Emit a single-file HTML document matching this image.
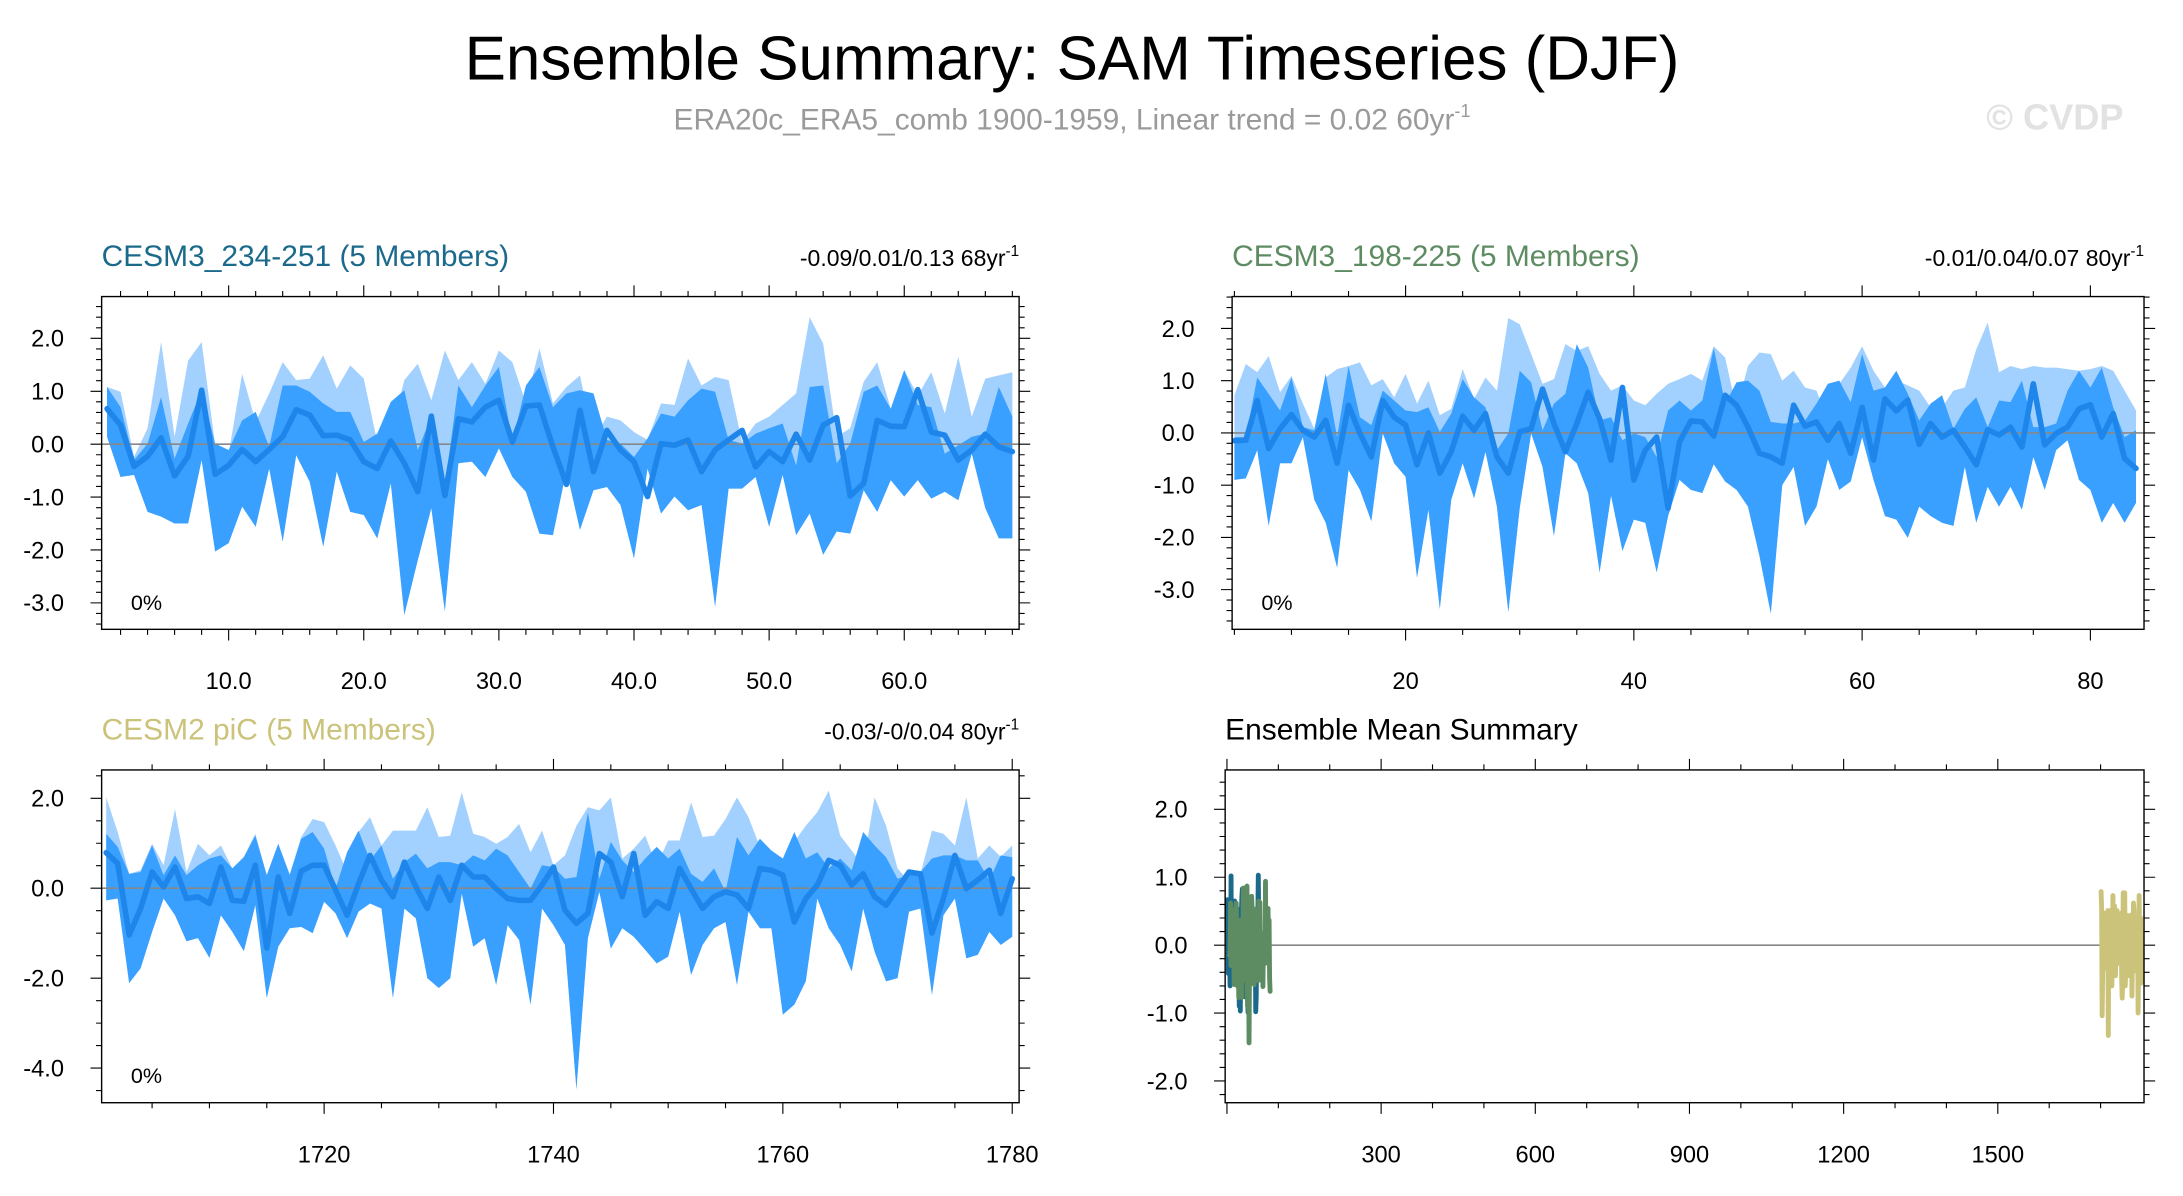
<!DOCTYPE html>
<html><head><meta charset="utf-8"><style>
html,body{margin:0;padding:0;background:#fff;}
svg{display:block;font-family:"Liberation Sans",sans-serif;}
</style></head><body>
<svg id="chart" width="2183" height="1196" viewBox="0 0 1568 859" preserveAspectRatio="none" xmlns="http://www.w3.org/2000/svg">
<rect width="1568" height="859" fill="#fff"/>
<text x="770" y="57" font-size="44.5" text-anchor="middle">Ensemble Summary: SAM Timeseries (DJF)</text>
<text x="770" y="93" font-size="21.5" fill="#9a9a9a" text-anchor="middle">ERA20c_ERA5_comb 1900-1959, Linear trend = 0.02 60yr<tspan font-size="13" dy="-9">-1</tspan></text>
<text x="1476" y="93" font-size="26" font-weight="bold" fill="#e2e2e2" text-anchor="middle">© CVDP</text>
<g id="panels"></g>
</svg>
<script>
// Panel 1: CESM3_234-251 (years 1..68)
const p1Mean=[0.67,0.36,-0.42,-0.23,0.12,-0.60,-0.23,1.02,-0.57,-0.40,-0.10,-0.33,-0.10,0.14,0.65,0.55,0.16,0.17,0.08,-0.33,-0.46,0.06,-0.36,-0.90,0.53,-0.97,0.48,0.42,0.70,0.83,0.04,0.72,0.74,-0.05,-0.76,0.64,-0.52,0.26,-0.11,-0.33,-0.99,0.01,-0.02,0.08,-0.52,-0.11,0.08,0.26,-0.43,-0.14,-0.33,0.19,-0.30,0.36,0.50,-0.98,-0.74,0.45,0.34,0.33,1.03,0.23,0.17,-0.30,-0.11,0.19,-0.05,-0.14];
const p1Hi=[1.08,0.99,-0.24,0.30,1.93,0.14,1.58,1.93,-0.02,-0.18,1.33,0.42,0.96,1.55,1.21,1.24,1.68,1.05,1.49,1.24,0.04,0.20,1.21,1.52,0.83,1.77,1.21,1.55,1.14,1.77,1.55,0.77,1.81,0.77,1.08,1.30,0.11,0.52,0.45,0.23,0.08,0.77,0.74,1.62,1.11,1.27,1.21,0.04,0.39,0.52,0.74,0.96,2.40,1.90,0.14,0.30,1.18,1.55,0.67,1.40,0.92,1.36,0.58,1.65,0.52,1.24,1.30,1.36];
const p1Mid=[1.08,0.70,-0.30,0.01,0.89,-0.27,0.39,1.02,0.01,-0.11,0.45,0.61,-0.05,1.11,1.11,0.99,0.77,0.61,0.61,0.04,0.20,0.80,1.02,-0.11,0.52,-0.81,1.11,0.70,1.11,1.46,0.04,1.11,1.46,0.70,0.96,1.02,0.96,0.08,0.01,-0.24,0.11,0.58,0.52,0.83,1.05,0.99,0.08,0.01,0.20,0.30,0.39,-0.40,1.08,1.11,-0.36,0.01,0.99,1.11,0.67,1.40,0.74,0.70,-0.18,-0.02,0.14,0.20,1.08,0.52];
const p1Lo=[0.14,-0.62,-0.58,-1.28,-1.37,-1.50,-1.50,-0.30,-2.03,-1.87,-1.18,-1.56,-0.46,-1.84,-0.21,-0.71,-1.94,-0.52,-1.28,-1.34,-1.78,-0.74,-3.23,-2.19,-1.21,-3.16,-0.36,-0.33,-0.62,-0.08,-0.62,-0.90,-1.69,-1.72,-0.49,-1.62,-0.87,-0.81,-1.15,-2.16,-0.46,-1.31,-0.99,-1.25,-1.15,-3.07,-0.84,-0.84,-0.62,-1.56,-0.58,-1.72,-1.31,-2.09,-1.65,-1.69,-0.87,-1.28,-0.68,-0.99,-0.68,-1.03,-0.90,-1.06,-0.18,-1.21,-1.78,-1.78];
// Panel 2: CESM3_198-225 (years 5..84)
const p2Mean=[-0.15,-0.14,0.62,-0.30,0.08,0.35,0.05,-0.08,0.24,-0.58,0.53,-0.01,-0.46,0.62,0.30,0.15,-0.61,0.00,-0.77,-0.36,0.32,0.05,0.37,-0.46,-0.77,0.02,0.08,0.84,0.18,-0.36,0.18,0.78,0.27,-0.52,0.87,-0.90,-0.33,-0.08,-1.44,-0.17,0.23,0.21,-0.06,0.72,0.53,0.11,-0.39,-0.46,-0.58,0.53,0.13,0.21,-0.14,0.18,-0.39,0.49,-0.52,0.65,0.42,0.63,-0.22,0.18,-0.08,0.05,-0.27,-0.61,0.06,-0.04,0.11,-0.27,0.94,-0.23,-0.01,0.11,0.46,0.54,-0.08,0.37,-0.49,-0.68];
const p2Hi=[0.72,1.32,1.16,1.47,0.78,1.09,0.56,0.08,1.06,1.22,1.28,1.35,0.91,1.03,0.68,1.13,0.56,1.00,0.34,0.46,1.22,0.65,1.06,0.81,2.20,2.08,1.51,0.94,1.03,1.70,1.57,1.66,1.13,0.81,0.91,0.62,0.53,0.75,0.94,1.03,1.13,1.00,1.66,1.44,0.46,1.28,1.54,1.51,1.00,1.19,0.87,0.81,0.27,0.94,1.25,1.66,1.19,0.87,1.00,0.91,0.81,0.49,0.49,0.81,0.87,1.60,2.11,1.16,1.28,1.22,1.28,1.25,1.25,1.22,1.19,1.22,1.28,1.19,0.81,0.43];
const p2Mid=[-0.08,-0.08,1.06,0.75,0.43,1.06,0.11,0.05,1.13,-0.08,1.28,0.30,0.15,0.81,0.62,0.43,0.40,0.49,0.02,0.37,1.03,0.68,0.49,-0.33,-0.01,1.19,0.97,0.05,0.56,0.75,1.70,1.25,0.24,0.30,-0.14,-0.01,-0.08,-0.46,0.43,0.62,0.43,0.62,1.63,0.56,0.97,1.00,0.81,0.21,0.18,0.18,0.24,0.56,0.94,1.00,0.59,1.51,0.81,0.87,1.19,0.75,0.24,0.56,0.72,0.08,0.46,0.68,0.11,0.62,0.59,1.00,0.11,0.11,0.18,0.81,1.19,0.87,1.25,0.49,-0.08,0.05];
const p2Lo=[-0.90,-0.87,-0.33,-1.78,-0.58,-0.58,-0.08,-1.28,-1.72,-2.58,-0.71,-1.09,-1.69,-0.01,-0.58,-0.84,-2.77,-1.47,-3.37,-1.28,-0.58,-1.25,-0.36,-1.41,-3.43,-1.44,-0.01,-0.65,-1.97,-0.39,-0.58,-1.15,-2.67,-1.20,-2.26,-1.66,-1.72,-2.67,-1.59,-0.90,-1.09,-1.15,-0.60,-0.93,-1.09,-1.41,-2.35,-3.46,-1.00,-0.65,-1.78,-1.41,-0.50,-1.09,-0.93,-0.08,-0.90,-1.59,-1.66,-2.01,-1.41,-1.59,-1.72,-1.78,-0.65,-1.72,-1.03,-1.41,-1.03,-1.47,-0.46,-1.09,-0.33,-0.14,-0.90,-1.09,-1.72,-1.34,-1.72,-1.34];
// Panel 3: CESM2 piC (years 1701..1780)
const p3Mean=[0.79,0.55,-1.04,-0.45,0.36,0.03,0.47,-0.23,-0.19,-0.34,0.47,-0.27,-0.29,0.51,-1.33,0.25,-0.56,0.38,0.51,0.51,-0.04,-0.60,0.10,0.73,0.18,-0.19,0.58,0.03,-0.45,0.25,-0.27,0.51,0.25,0.25,-0.01,-0.23,-0.27,-0.27,0.07,0.47,-0.49,-0.78,-0.56,0.77,0.58,-0.19,0.77,-0.60,-0.30,-0.45,0.44,-0.01,-0.45,-0.19,-0.08,-0.15,-0.45,0.44,0.40,0.29,-0.75,-0.23,0.07,0.62,0.51,0.07,0.32,-0.19,-0.38,-0.01,0.36,0.32,-1.00,-0.23,0.73,-0.01,0.18,0.40,-0.56,0.21];
const p3Hi=[2.02,1.25,0.32,0.40,0.99,0.51,1.76,0.36,0.99,0.73,0.95,0.44,0.70,1.21,0.29,0.99,0.32,1.14,1.54,1.47,0.95,0.36,1.25,1.58,0.95,1.28,1.28,1.28,1.80,1.14,1.17,2.13,1.21,1.14,0.99,1.14,1.43,0.80,1.28,0.51,0.73,1.39,1.80,1.73,2.02,0.66,0.88,1.17,0.51,1.06,1.06,1.91,1.14,1.17,1.54,2.02,1.58,0.92,0.58,0.58,1.03,1.39,1.69,2.17,1.17,0.84,0.51,2.02,1.39,0.44,0.14,0.32,1.28,1.21,0.95,2.02,0.66,0.95,0.70,0.95];
const p3Mid=[1.21,0.92,0.32,0.36,0.95,0.29,0.73,0.29,0.51,0.66,0.73,0.44,0.69,1.17,0.29,0.99,0.29,1.10,1.25,0.88,-0.01,0.80,1.28,0.62,0.95,0.21,0.58,0.77,0.44,0.58,0.58,0.51,0.73,0.62,0.88,0.73,0.36,-0.01,0.51,0.47,0.21,0.25,1.69,0.21,1.03,0.62,0.36,0.66,0.92,0.66,0.88,0.32,0.14,0.44,-0.08,1.14,0.73,1.10,0.84,0.66,1.25,0.66,0.80,0.44,0.66,0.40,1.25,0.95,0.69,0.21,0.29,0.36,0.66,0.73,0.73,0.62,0.62,0.18,0.73,0.69];
const p3Lo=[-0.27,-0.23,-2.11,-1.78,-0.97,-0.23,-0.60,-1.18,-1.11,-1.55,-0.60,-0.97,-1.40,-0.38,-2.44,-1.30,-0.89,-0.86,-1.00,-0.30,-0.56,-1.11,-0.52,-0.34,-0.45,-2.44,-0.45,-0.67,-2.00,-2.22,-2.00,-0.12,-1.30,-1.11,-2.15,-0.82,-1.15,-2.59,-0.45,-0.82,-1.26,-4.47,-1.11,-0.08,-1.34,-0.89,-1.08,-1.37,-1.67,-1.52,-0.52,-1.93,-1.26,-0.89,-0.75,-2.15,-0.52,-0.89,-0.89,-2.81,-2.59,-2.07,-0.23,-0.89,-1.26,-1.85,-0.45,-1.41,-2.07,-2.00,-0.52,-0.45,-2.37,-0.60,-0.23,-1.56,-1.48,-0.97,-1.26,-1.08];
const p1Start=1, p2Start=5, p3Start=1701;
const p1Labels=["10.0","20.0","30.0","40.0","50.0","60.0"];
const p2Labels=["20","40","60","80"];
const p3Labels=["1720","1740","1760","1780"];
const p4Labels=["300","600","900","1200","1500"];

const NS="http://www.w3.org/2000/svg";
const root=document.getElementById('panels');
function mk(tag,attrs,parent){const e=document.createElementNS(NS,tag);for(const k in attrs)e.setAttribute(k,attrs[k]);(parent||root).appendChild(e);return e;}
let clipId=0;
function panel(c){
  const g=mk('g',{});
  
  
  const sx=v=>c.x0+(v-c.xmin)/(c.xmax-c.xmin)*(c.x1-c.x0);
  const sy=v=>c.y1-(v-c.ymin)/(c.ymax-c.ymin)*(c.y1-c.y0);
  const id='clip'+(clipId++);
  const cp=mk('clipPath',{id:id},g);mk('rect',{x:c.x0,y:c.y0,width:c.x1-c.x0,height:c.y1-c.y0},cp);
  const pg=mk('g',{'clip-path':'url(#'+id+')'},g);
  const poly=(top,bot,start)=>{let pts=[];top.forEach((v,i)=>pts.push(sx(start+i)+','+sy(v)));for(let i=bot.length-1;i>=0;i--)pts.push(sx(start+i)+','+sy(bot[i]));return pts.join(' ');};
  (c.bands||[]).forEach(b=>{
    const l=mk('polygon',{points:poly(b.hi,b.lo,b.start),fill:'#a3d1ff'},pg);
    
    
    const d=mk('polygon',{points:poly(b.mid,b.lo,b.start),fill:'#3aa0ff'},pg);
    
    
  });
  const z=mk('line',{x1:c.x0,x2:c.x1,y1:sy(0),y2:sy(0),stroke:'#888','stroke-width':1.2},pg);
  
  
  c.lines.forEach(L=>{
    const p=mk('polyline',{points:L.data.map((v,i)=>sx(L.start+i)+','+sy(v)).join(' '),fill:'none',stroke:L.color,'stroke-width':L.w,'stroke-linejoin':'round','stroke-linecap':'round'},pg);
    
    
  });
  mk('rect',{x:c.x0,y:c.y0,width:c.x1-c.x0,height:c.y1-c.y0,fill:'none',stroke:'#000','stroke-width':1},g);
  const tk=[];
  for(let v=Math.ceil(c.xmin/c.xminor)*c.xminor;v<=c.xmax+1e-9;v+=c.xminor){const maj=Math.abs(v/c.xmajor-Math.round(v/c.xmajor))<1e-6;const L=maj?8:4;const x=sx(v);tk.push(`M${x},${c.y0}v${-L}M${x},${c.y1}v${L}`);}
  for(let v=Math.ceil(c.ymin/c.yminor)*c.yminor;v<=c.ymax+1e-9;v+=c.yminor){const maj=Math.abs(v/c.ymajor-Math.round(v/c.ymajor))<1e-6;const L=maj?8:4;const y=sy(v);tk.push(`M${c.x0},${y}h${-L}M${c.x1},${y}h${L}`);}
  mk('path',{d:tk.join(''),stroke:'#000','stroke-width':0.8,fill:'none'},g);
  c.xticks.forEach((v,i)=>{const t=mk('text',{x:sx(v),y:c.y1+43,'font-size':17,'text-anchor':'middle'},g);t.textContent=c.xlabels[i];
    
    });
  c.yticks.forEach(v=>{const t=mk('text',{x:c.x0-27,y:sy(v)+6,'font-size':17,'text-anchor':'end'},g);t.textContent=v.toFixed(1);
    
    });
  const tt=mk('text',{x:c.x0,y:c.y0-22,'font-size':21.5,fill:c.tcolor},g);tt.textContent=c.title;
  
  
  if(c.stat){const s=mk('text',{x:c.x1,y:c.y0-22,'font-size':16.5,'text-anchor':'end'},g);s.innerHTML=c.stat+'<tspan font-size="11" dy="-7">-1</tspan>';
    
    }
  if(c.pct){const s=mk('text',{x:c.x0+21,y:c.y1-14,'font-size':15.5},g);s.textContent='0%';
    
    }
}
const mc='#1e86ea';
panel({name:'panel-cesm3-234-251',x0:73,x1:732,y0:213,y1:452,xmin:0.6,xmax:68.5,ymin:-3.5,ymax:2.79,xminor:2,xmajor:10,yminor:0.2,ymajor:1,
  xticks:[10,20,30,40,50,60],xlabels:p1Labels,yticks:[-3,-2,-1,0,1,2],title:'CESM3_234-251 (5 Members)',tcolor:'#1b6a8c',stat:'-0.09/0.01/0.13 68yr',pct:1,
  bands:[{hi:p1Hi,mid:p1Mid,lo:p1Lo,start:p1Start}],lines:[{data:p1Mean,start:p1Start,color:mc,w:4,name:'ensemble-mean-line'}]});
panel({name:'panel-cesm3-198-225',x0:885,x1:1540,y0:213,y1:452,xmin:4.8,xmax:84.7,ymin:-3.76,ymax:2.61,xminor:5,xmajor:20,yminor:0.2,ymajor:1,
  xticks:[20,40,60,80],xlabels:p2Labels,yticks:[-3,-2,-1,0,1,2],title:'CESM3_198-225 (5 Members)',tcolor:'#5e8c62',stat:'-0.01/0.04/0.07 80yr',pct:1,
  bands:[{hi:p2Hi,mid:p2Mid,lo:p2Lo,start:p2Start}],lines:[{data:p2Mean,start:p2Start,color:mc,w:4,name:'ensemble-mean-line'}]});
panel({name:'panel-cesm2-pic',x0:73,x1:732,y0:553,y1:792,xmin:1700.6,xmax:1780.6,ymin:-4.77,ymax:2.63,xminor:5,xmajor:20,yminor:0.5,ymajor:2,
  xticks:[1720,1740,1760,1780],xlabels:p3Labels,yticks:[-4,-2,0,2],title:'CESM2 piC (5 Members)',tcolor:'#cbc37a',stat:'-0.03/-0/0.04 80yr',pct:1,
  bands:[{hi:p3Hi,mid:p3Mid,lo:p3Lo,start:p3Start}],lines:[{data:p3Mean,start:p3Start,color:mc,w:4,name:'ensemble-mean-line'}]});
panel({name:'panel-ensemble-mean-summary',x0:880,x1:1540,y0:553,y1:792,xmin:-3.5,xmax:1784.5,ymin:-2.32,ymax:2.58,xminor:100,xmajor:300,yminor:0.2,ymajor:1,
  xticks:[300,600,900,1200,1500],xlabels:p4Labels,yticks:[-2,-1,0,1,2],title:'Ensemble Mean Summary',tcolor:'#000',
  lines:[{data:p1Mean,start:p1Start,color:'#1b6a8c',w:3.5,name:'mean-cesm3-234-251'},{data:p2Mean,start:p2Start,color:'#5e8c62',w:3.5,name:'mean-cesm3-198-225'},{data:p3Mean,start:p3Start,color:'#cbc37a',w:3.5,name:'mean-cesm2-pic'}]});
</script>
</body></html>
